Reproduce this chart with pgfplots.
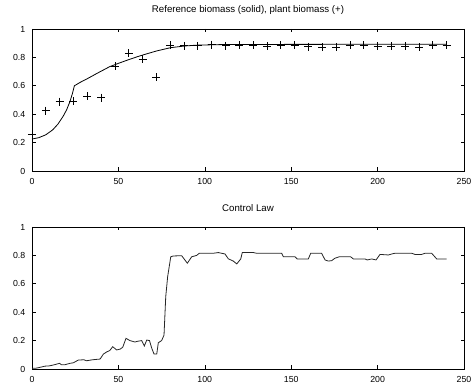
\documentclass[border=0pt]{standalone}
\usepackage{pgfplots}
\pgfplotsset{compat=1.18}
\usepackage{fontspec}
\setmainfont{Liberation Sans}
\begin{document}
\begin{tikzpicture}
\path[use as bounding box] (0bp,0bp) rectangle (474bp,383bp);
\pgfplotsset{
  myax/.style={
    scale only axis, width=432bp, height=142bp,
    anchor=south west,
    xmin=0, xmax=250, ymin=0, ymax=1,
    xtick={0,50,100,150,200,250},
    ytick={0,0.2,0.4,0.6,0.8,1},
    tick align=inside, tick pos=both,
    major tick length=3.5bp,
    axis line style={line width=0.8bp},
    every tick/.style={black, line width=0.6bp},
    /pgf/number format/assume math mode=true,
    tick label style={font=\fontsize{8.8}{10}\selectfont},
    xticklabel style={anchor=center, inner sep=0pt, yshift=-10.5bp},
    yticklabel style={anchor=east, inner sep=0pt, xshift=-6.5bp},
    title style={at={(0.5,1)}, anchor=center, yshift=13bp, inner sep=0pt, font=\fontsize{9.7}{11}\selectfont},
  }
}
\begin{axis}[myax, at={(32bp,212bp)}, clip=false, title={Reference biomass (solid), plant biomass (+)}]
\addplot[black, line width=0.8bp, no marks] coordinates {
(0,0.225) (4,0.235) (8,0.255) (12,0.29) (15,0.33) (18,0.385) (20,0.43) (22,0.49) (23.5,0.55) (24.5,0.6) (28,0.625) (32,0.65) (38,0.69) (45,0.735) (50,0.758) (55,0.78) (61,0.805) (65,0.82) (72,0.845) (80,0.868) (88,0.88) (95,0.886) (105,0.889) (113,0.891) (240,0.893)
};
\addplot[black, only marks, mark=+, mark size=4bp, mark options={line width=0.8bp}] coordinates {
(0,0.26) (8,0.425) (16,0.488) (24,0.49) (32,0.528) (40,0.516) (48,0.737) (56,0.829) (64,0.786) (72,0.66) (80,0.885) (88,0.882) (96,0.882) (104,0.89) (112,0.882) (120,0.885) (128,0.885) (136,0.878) (144,0.885) (152,0.885) (160,0.875) (168,0.872) (176,0.872) (184,0.886) (192,0.886) (200,0.88) (208,0.88) (216,0.88) (224,0.872) (232,0.887) (240,0.887)
};
\end{axis}
\begin{axis}[myax, at={(32bp,14bp)}, title={Control Law}]
\addplot[black!85, line width=0.8bp, no marks] coordinates {
(0,0.005) (2,0.005) (4,0.01) (7.5,0.02) (10,0.022) (12.3,0.028) (16,0.04) (17,0.03) (19,0.03) (22,0.04) (24,0.044) (26.8,0.063) (30,0.065) (31.6,0.058) (35,0.065) (39.4,0.07) (41.3,0.105) (43.2,0.12) (45,0.13) (46.7,0.157) (49,0.134) (51,0.14) (52.5,0.153) (54.4,0.216) (56.7,0.2) (59.6,0.19) (61,0.195) (63.5,0.2) (65,0.162) (66.4,0.204) (68,0.2) (69.3,0.146) (70.6,0.106) (72.2,0.106) (73.1,0.185) (75,0.2) (75.6,0.216) (76.4,0.239) (77.4,0.51) (78.5,0.65) (80.3,0.79) (81.8,0.796) (86.6,0.798) (89.9,0.745) (92.4,0.79) (95.3,0.8) (96.8,0.815) (104.9,0.815) (107.8,0.82) (111.7,0.81) (113.6,0.776) (116.5,0.76) (118.5,0.74) (120.8,0.775) (121.7,0.82) (128.1,0.82) (130,0.815) (144.5,0.815) (145.5,0.79) (152.2,0.79) (153.5,0.775) (159.9,0.775) (161.3,0.815) (167.6,0.815) (169.6,0.768) (171.5,0.76) (173.4,0.763) (175.3,0.78) (177.8,0.79) (184.4,0.79) (186,0.775) (192.7,0.775) (194,0.768) (196.6,0.775) (199.1,0.768) (201.4,0.807) (206.2,0.803) (208.2,0.81) (210,0.815) (219.7,0.815) (221.6,0.807) (225.5,0.807) (227.4,0.815) (231.3,0.815) (234.2,0.775) (240,0.775)
};
\end{axis}
\end{tikzpicture}
\end{document}
